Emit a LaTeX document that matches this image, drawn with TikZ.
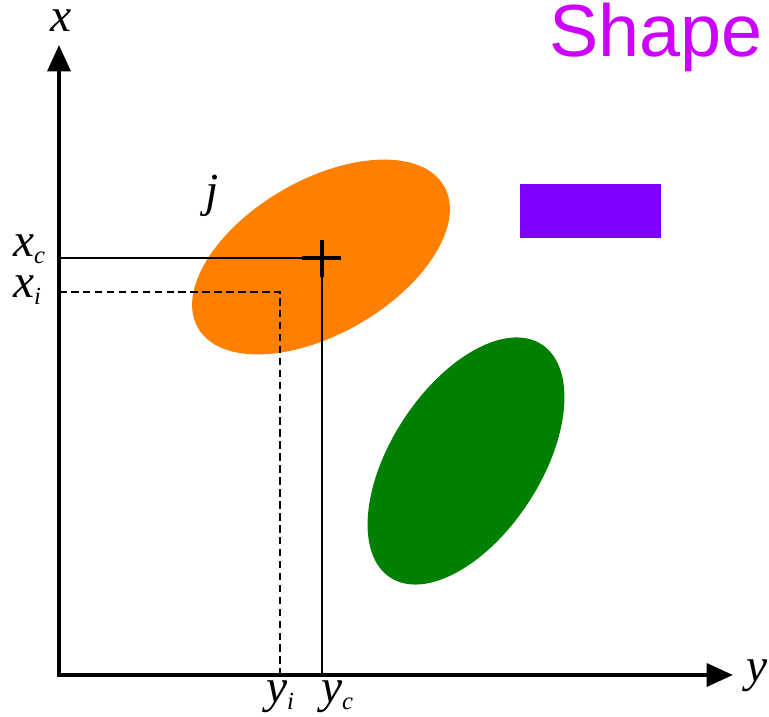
\documentclass[tikz,border=0pt]{standalone}
\usepackage{fontspec}
\newfontfamily\shapefont{Liberation Sans}
\newfontfamily\labelfont{Liberation Serif}
\usetikzlibrary{arrows.meta}

\definecolor{orangefill}{HTML}{FF8000}
\definecolor{greenfill}{HTML}{008000}
\definecolor{violetfill}{HTML}{8000FF}
\definecolor{shapetext}{HTML}{CC00FF}

\newcommand{\axlab}[2]{\textit{#1}\raisebox{-3.5pt}[\height][0pt]{\fontsize{14}{16}\selectfont\textit{#2}}}

\begin{document}
\begin{tikzpicture}[
    x=0.02cm, y=0.02cm,
    axis/.style={
        line width=2.3pt,
        {Triangle[length=15pt,width=13pt]}-{Triangle[length=15pt,width=13pt]}
    },
    guide/.style={line width=1.1pt},
    dashguide/.style={guide, dash pattern=on 4.3pt off 2.5pt},
    crossbar/.style={line width=2.8pt},
    mathlabel/.style={font=\labelfont\fontsize{27}{30}\selectfont, inner sep=0pt, anchor=base}
]

% Canvas
\useasboundingbox (0,0) rectangle (769,717);

% Key points
\coordinate (O) at (59,42);
\coordinate (xtip) at (59,672);
\coordinate (ytip) at (733,42);
\coordinate (C) at (322,459);
\coordinate (I) at (280,425);

% Objects
\fill[orangefill, rotate around={30:(321,460)}] (321,460) ellipse [x radius=142, y radius=77];
\fill[greenfill, rotate around={57:(466,256)}] (466,256) ellipse [x radius=139, y radius=75];
\fill[violetfill] (520,479) rectangle (661,533);

% Centre lines
\draw[guide] (O |- C) -- (C);
\draw[guide] (C) -- (C |- O);

% Pixel lines
\draw[dashguide] (O |- I) -- (I) -- (I |- O);

% Centre mark
\draw[crossbar] (C) ++(-20,0) -- ++(39,0);
\draw[crossbar] (C) ++(0,18) -- ++(0,-37);

% Axes
\draw[axis] (xtip) -- (O) -- (ytip);

% Labels
\node[mathlabel] (xlab) at (61,685) {\textit{x}};
\node[mathlabel] (ylab) at (757,35) {\textit{y}};
\node[mathlabel] (xclab) at (29,460) {\axlab{x}{c}};
\node[mathlabel] (xilab) at (27,419) {\axlab{x}{i}};
\node[mathlabel] (yilab) at (280,14) {\axlab{y}{i}};
\node[mathlabel] (yclab) at (337,14) {\axlab{y}{c}};
\node[mathlabel] (jlab) at (212,510) {\textit{j}};

% Title
\node[font=\shapefont\fontsize{42}{48}\selectfont, text=shapetext, anchor=base, inner sep=0pt] (title) at (656,660) {Shape};

\end{tikzpicture}
\end{document}
